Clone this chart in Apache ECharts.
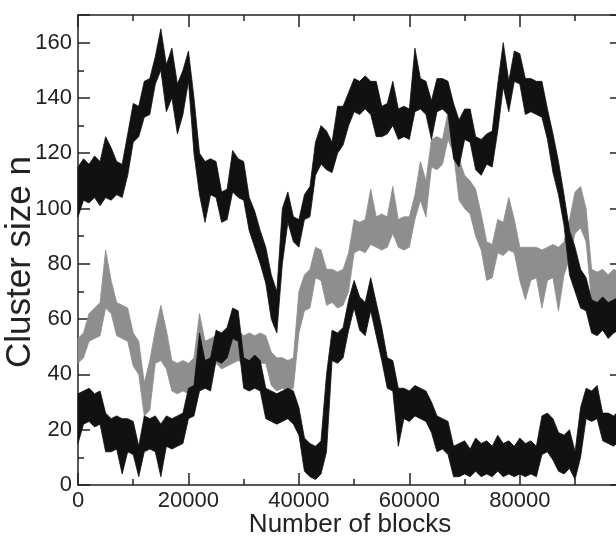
<!DOCTYPE html>
<html>
<head>
<meta charset="utf-8">
<script src="https://cdn.jsdelivr.net/npm/echarts@6/dist/echarts.min.js"></script>
<style>html,body{margin:0;padding:0;background:#fff}#c{width:616px;height:537px}</style>
</head>
<body>
<div id="c"></div>
<script>
// Sample positions (number of blocks), one every 1000 blocks
var blockStep = 1000;
var sampleCount = 99;

// Upper black trace: lower and upper envelope of the noise band
var upperLo = [97,103,102,104,101,104,103,105,104,112,124,126,133,134,145,150,135,140,127,134,146,120,105,95,105,104,95,96,106,104,103,92,86,80,73,60,55,80,95,88,86,96,97,112,116,114,113,120,123,130,135,134,136,134,126,126,127,130,125,126,125,135,136,134,125,135,136,134,118,115,125,124,114,112,116,115,128,144,135,146,145,134,135,134,133,125,113,105,94,76,70,64,63,55,54,56,53,55,56];
var upperHi = [115,118,116,119,117,126,122,117,116,127,138,137,146,147,155,165,152,158,145,150,157,140,120,117,118,117,106,107,121,118,117,104,99,92,86,76,70,100,106,97,96,105,108,124,130,128,124,137,137,142,147,146,148,146,146,137,138,146,136,137,136,158,147,146,139,147,147,146,138,132,136,136,126,125,127,128,145,160,146,157,156,147,147,146,146,136,127,117,105,92,86,78,75,67,66,68,66,67,68];

// Gray trace
var grayLo = [44,46,52,53,54,64,62,54,53,52,43,40,25,27,44,45,42,34,33,34,33,36,43,42,43,44,42,43,44,45,44,45,43,44,44,36,34,35,34,35,55,63,64,75,74,65,66,64,65,70,84,85,84,87,86,85,86,91,86,85,86,96,103,97,115,114,116,125,120,103,100,98,90,85,74,75,84,83,85,84,74,67,74,75,64,74,75,63,76,82,91,93,88,66,64,66,64,65,66];
var grayHi = [53,55,62,64,66,85,74,66,65,64,55,52,37,45,56,65,56,45,44,45,44,46,62,52,53,54,53,54,55,56,54,55,54,55,54,48,46,46,45,46,70,76,78,86,85,78,78,77,78,84,96,95,96,107,97,98,97,108,96,97,97,105,117,110,125,126,125,135,138,118,112,110,107,98,88,87,96,95,104,96,86,86,86,86,85,86,87,86,88,96,106,108,100,78,77,78,76,78,77];

// Lower black trace
var lowerLo = [15,22,23,21,22,12,12,13,4,12,11,3,12,13,12,3,14,13,14,15,24,25,34,35,34,45,44,46,53,52,35,34,35,34,24,23,22,23,24,22,18,5,3,2,4,12,45,44,46,56,64,56,54,63,54,45,35,34,14,24,23,25,24,23,19,12,13,11,3,3,4,3,5,3,4,3,5,3,4,3,4,3,4,3,11,12,9,5,4,6,2,10,24,23,24,16,15,14,16];
var lowerHi = [33,34,35,33,34,26,24,25,24,24,23,14,25,24,25,22,25,24,25,26,35,36,55,45,46,56,55,57,64,63,46,45,47,45,35,34,33,34,35,34,28,17,15,14,16,40,56,55,57,67,74,68,66,75,66,57,46,45,35,35,34,36,35,34,30,25,24,23,14,15,16,13,17,15,16,14,18,15,16,14,17,15,16,14,25,26,24,19,18,20,12,28,35,34,36,26,26,25,27];

// Axis ticks
var xTickInterval = 20000;
var yTickInterval = 20;
var xMax = 98500;
var yMax = 170;

var blocks = [];
for (var i = 0; i < sampleCount; i++) blocks.push(i * blockStep);

function bandSeries(name, lo, hi, color, z) {
  var data = blocks.map(function (b, i) { return [b, lo[i], hi[i]]; });
  return {
    name: name,
    type: 'custom',
    z: z,
    silent: true,
    encode: { x: 0, y: [1, 2] },
    data: data,
    renderItem: function (params, api) {
      if (params.dataIndex !== 0) return null;
      var pts = [];
      for (var k = 0; k < data.length; k++) pts.push(api.coord([data[k][0], data[k][2]]));
      for (var k2 = data.length - 1; k2 >= 0; k2--) pts.push(api.coord([data[k2][0], data[k2][1]]));
      return {
        type: 'polygon',
        shape: { points: pts },
        style: { fill: color, stroke: color, lineWidth: 0.8, lineJoin: 'miter' }
      };
    }
  };
}

var font = '"Liberation Sans", Arial, Helvetica, sans-serif';
var axisColor = '#222';
function plain(v) { return String(v); }

function xAxisDef(pos, showLabels) {
  return {
    type: 'value', position: pos, min: 0, max: xMax, interval: xTickInterval,
    name: showLabels ? 'Number of blocks' : '',
    nameLocation: 'middle', nameGap: 27, nameMoveOverlap: false,
    nameTextStyle: { fontFamily: font, fontSize: 26, color: axisColor },
    axisLine: { show: true, onZero: false, lineStyle: { color: axisColor, width: 1.5 } },
    axisTick: { show: true, inside: true, length: 12, lineStyle: { color: axisColor, width: 1.5 } },
    minorTick: { show: true, splitNumber: 2, length: 6, lineStyle: { color: axisColor, width: 1.5 } },
    axisLabel: { show: showLabels, margin: 5, fontFamily: font, fontSize: 22, color: axisColor, showMaxLabel: false, formatter: plain },
    splitLine: { show: false }
  };
}
function yAxisDef(pos, showLabels) {
  return {
    type: 'value', position: pos, min: 0, max: yMax, interval: yTickInterval,
    name: showLabels ? 'Cluster size n' : '',
    nameLocation: 'middle', nameGap: 40, nameRotate: 90, nameMoveOverlap: false,
    nameTextStyle: { fontFamily: font, fontSize: 35, color: axisColor, padding: [0, 24, 0, 0] },
    axisLine: { show: true, onZero: false, lineStyle: { color: axisColor, width: 1.5 } },
    axisTick: { show: true, inside: true, length: 12, lineStyle: { color: axisColor, width: 1.5 } },
    minorTick: { show: true, splitNumber: 2, length: 6, lineStyle: { color: axisColor, width: 1.5 } },
    axisLabel: { show: showLabels, margin: 6, fontFamily: font, fontSize: 22, color: axisColor, showMaxLabel: false, formatter: plain },
    splitLine: { show: false }
  };
}

var chart = echarts.init(document.getElementById('c'), null, { renderer: 'canvas' });
chart.setOption({
  backgroundColor: '#fff',
  animation: false,
  grid: { left: 78, top: 15, width: 544, height: 470, containLabel: false, outerBoundsMode: 'none' },
  xAxis: [xAxisDef('bottom', true), xAxisDef('top', false)],
  yAxis: [yAxisDef('left', true), yAxisDef('right', false)],
  series: [
    bandSeries('gray', grayLo, grayHi, '#8e8e8e', 2),
    bandSeries('upper', upperLo, upperHi, '#111', 3),
    bandSeries('lower', lowerLo, lowerHi, '#111', 3)
  ]
});
</script>
</body>
</html>
